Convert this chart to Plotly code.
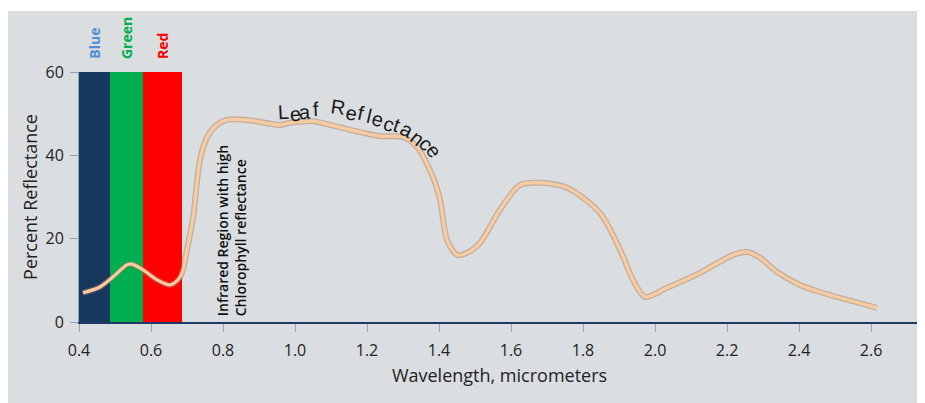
import plotly.graph_objects as go

# ---- data ----
wavelength = [0.411, 0.458, 0.494, 0.533, 0.547, 0.578, 0.617, 0.653, 0.675, 0.686,
              0.700, 0.717, 0.736, 0.756, 0.783, 0.811, 0.867, 0.958, 0.986, 1.050,
              1.097, 1.189, 1.236, 1.300, 1.339, 1.383, 1.403, 1.422, 1.450, 1.478,
              1.514, 1.569, 1.625, 1.681, 1.756, 1.847, 1.903, 1.939, 1.972, 2.033,
              2.125, 2.217, 2.256, 2.292, 2.339, 2.403, 2.458, 2.617]
reflectance = [7.0, 8.4, 10.8, 13.7, 13.9, 12.5, 10.1, 8.9, 10.1, 11.8,
               17.3, 25.2, 38.9, 44.4, 47.3, 48.5, 48.5, 47.3, 47.8, 48.2,
               47.3, 45.4, 44.6, 44.4, 42.0, 34.8, 29.3, 19.7, 16.1, 16.6,
               19.0, 26.9, 32.9, 33.4, 32.2, 26.2, 17.3, 10.1, 6.0, 8.2,
               11.8, 16.1, 16.8, 15.4, 12.0, 8.9, 7.2, 3.4]

band_names = ["Blue", "Green", "Red"]
band_start = [0.400, 0.486, 0.577]
band_end = [0.486, 0.577, 0.686]
band_top = [60, 60, 60]
band_fill = ["#17375e", "#00b050", "#ff0000"]
band_label_color = ["#558ed5", "#00b050", "#ff0000"]

x_ticks = [0.4, 0.6, 0.8, 1.0, 1.2, 1.4, 1.6, 1.8, 2.0, 2.2, 2.4, 2.6]
y_ticks = [0, 20, 40, 60]

curve_title = "Leaf Reflectance"
# per-letter placement along the curve (x, y in data units, angle in degrees)
letter_x = [0.969, 1.000, 1.028, 1.058, 1.119, 1.156, 1.183, 1.206, 1.228, 1.261,
            1.283, 1.311, 1.339, 1.365, 1.386]
letter_y = [50.4, 49.9, 50.4, 51.1, 51.6, 50.2, 50.2, 49.4, 48.7, 47.5,
            47.3, 46.1, 44.2, 42.7, 41.0]
letter_angle = [-3, -3, -3, -3, 8, 10, 12, 13, 15, 18, 20, 28, 38, 48, 55]

fig = go.Figure()

# spectral bands
for name, s, e, top, col in zip(band_names, band_start, band_end, band_top, band_fill):
    fig.add_trace(go.Bar(x=[(s + e) / 2], y=[top], width=[e - s], marker=dict(color=col, line=dict(width=0)),
                         showlegend=False, hoverinfo="skip"))

# curve shadow + curve
fig.add_trace(go.Scatter(x=wavelength, y=reflectance, mode="lines",
                         line=dict(color="rgba(170,120,80,0.45)", width=6, shape="spline", smoothing=0.8),
                         showlegend=False, hoverinfo="skip"))
fig.add_trace(go.Scatter(x=wavelength, y=reflectance, mode="lines",
                         line=dict(color="#f7cca3", width=3.2, shape="spline", smoothing=0.8),
                         showlegend=False))

annotations = []
for name, s, e, col in zip(band_names, band_start, band_end, band_label_color):
    annotations.append(dict(x=(s + e) / 2, y=1.045, xref="x", yref="paper", text="<b>%s</b>" % name,
                            textangle=-90, showarrow=False, xanchor="center", yanchor="bottom",
                            font=dict(family="Open Sans", size=14, color=col)))

letters = [c for c in curve_title if c != " "]
for ch, lx, ly, la in zip(letters, letter_x, letter_y, letter_angle):
    annotations.append(dict(x=lx, y=ly, xref="x", yref="y", text=ch, textangle=la, showarrow=False,
                            xanchor="center", yanchor="middle",
                            font=dict(family="Liberation Sans", size=20, color="#1a1a1a")))

annotations.append(dict(x=0.822, y=1.0, xref="x", yref="y",
                        text="Infrared Region with high<br>Chlorophyll reflectance",
                        textangle=-90, showarrow=False, xanchor="center", yanchor="bottom", align="left",
                        font=dict(family="Open Sans", size=14, weight=600, color="#111111")))

fig.update_layout(
    width=917, height=395,
    margin=dict(l=71, r=5, t=64, b=81),
    paper_bgcolor="white",
    plot_bgcolor="rgba(0,0,0,0)",
    barmode="overlay",
    bargap=0,
    showlegend=False,
    annotations=annotations,
    shapes=[dict(type="rect", xref="paper", yref="paper", x0=-0.0844, x1=1.0048, y0=-0.33, y1=1.244,
                 fillcolor="#dadee1", line=dict(width=0), layer="below")],
    font=dict(family="Open Sans", color="#222222"),
)

fig.update_xaxes(range=[0.4, 2.736], tickvals=x_ticks, ticktext=["%.1f" % v for v in x_ticks],
                 automargin=False,
                 showgrid=False, zeroline=False, showline=True, linecolor="#1f3864", linewidth=2,
                 ticks="outside", ticklen=8, tickcolor="#8fa3bd", tickwidth=1, ticklabelstandoff=5,
                 tickfont=dict(size=16, color="#222222"),
                 title=dict(text="Wavelength, micrometers", font=dict(size=18, color="#222222"), standoff=9))
fig.update_yaxes(range=[0, 60], tickvals=y_ticks, showgrid=False, zeroline=False,
                 automargin=False,
                 showline=True, linecolor="#8fa3bd", linewidth=1,
                 ticks="outside", ticklen=8, tickcolor="#8fa3bd", tickwidth=1, ticklabelstandoff=3,
                 tickfont=dict(size=16, color="#222222"),
                 title=dict(text="Percent Reflectance", font=dict(size=18, color="#222222"), standoff=3))

fig.write_html("out.html")
